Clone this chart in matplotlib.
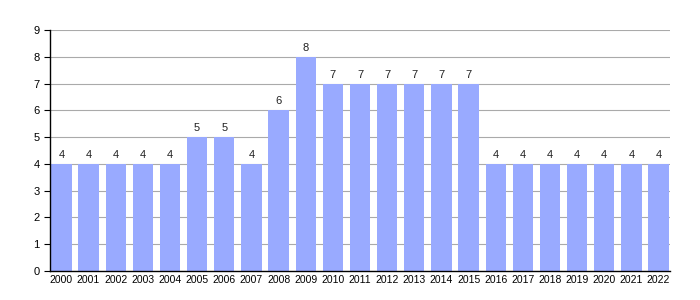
import matplotlib
matplotlib.use("Agg")
import matplotlib.pyplot as plt

years = [str(y) for y in range(2000, 2023)]
values = [4, 4, 4, 4, 4, 5, 5, 4, 6, 8, 7, 7, 7, 7, 7, 7, 4, 4, 4, 4, 4, 4, 4]

plt.rcParams['font.family'] = ['Liberation Sans', 'DejaVu Sans']

fig = plt.figure(figsize=(7, 3), dpi=100)
ax = fig.add_axes([50 / 700, 29 / 300, 620 / 700, 241 / 300])

x = range(len(years))
bars = ax.bar(x, values, width=0.75, color='#99aaff', zorder=2)
for xi, v in zip(x, values):
    ax.text(xi, v + 0.15, str(v), ha='center', va='bottom', fontsize=8, color='#222222')

ax.set_xlim(-0.42, len(years) - 0.58)
ax.set_ylim(0, 9)
ax.set_yticks(range(10))
ax.set_xticks(list(x))
ax.set_xticklabels(years, fontsize=7.5)
ax.tick_params(axis='x', length=0, pad=3)
ax.tick_params(axis='y', length=4, labelsize=8, width=0.8)
ax.yaxis.grid(True, color='#aaaaaa', linewidth=0.8, zorder=0)
ax.set_axisbelow(True)
for s in ['top', 'right']:
    ax.spines[s].set_visible(False)
ax.spines['left'].set_linewidth(1)
ax.spines['bottom'].set_linewidth(1)

fig.savefig('out.png', dpi=100)
